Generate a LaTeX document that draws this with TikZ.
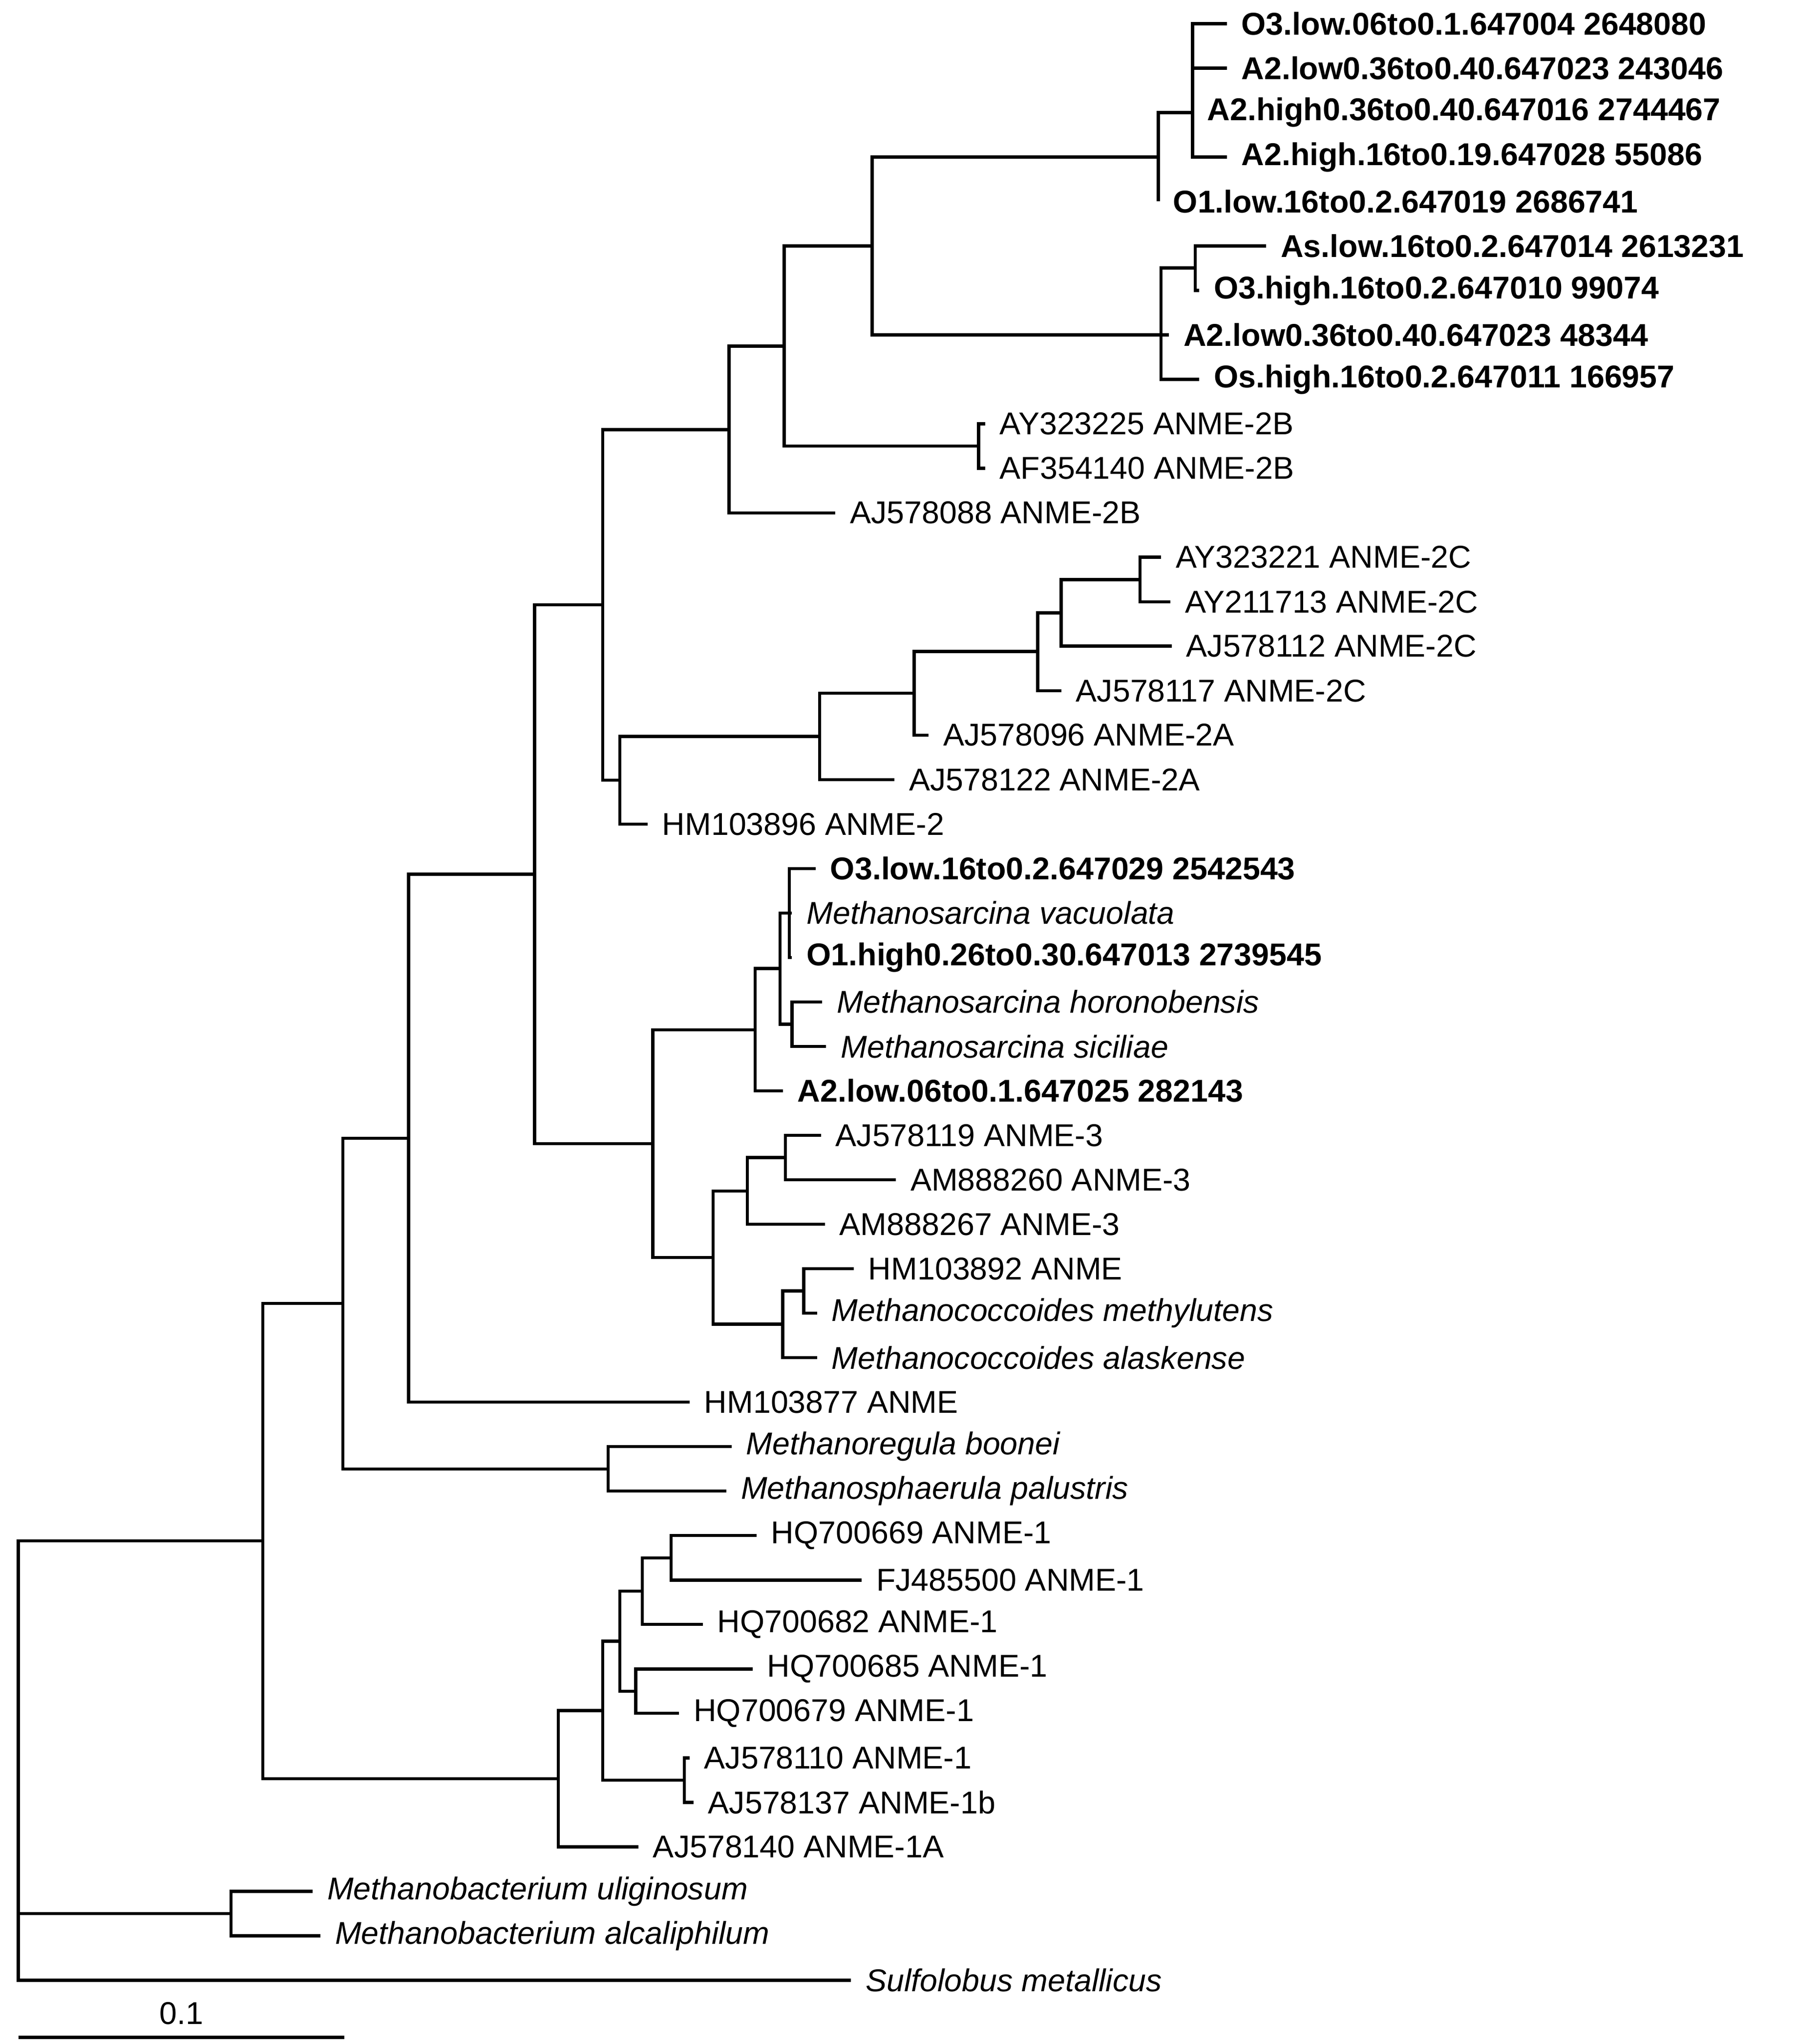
\documentclass[tikz,border=0pt]{standalone}
\usepackage{fontspec}
\setmainfont{Liberation Sans}
\begin{document}
\begin{tikzpicture}[x=0.5pt,y=-0.5pt,line width=1.2pt,
  lab/.style={anchor=west,inner sep=0pt,font=\fontsize{12}{14}\selectfont},
  b/.style={font=\fontsize{12}{14}\selectfont\bfseries},
  it/.style={font=\fontsize{12}{14}\selectfont\itshape}]
\useasboundingbox (0,0) rectangle (1384,1556);
\newcommand{\lf}[5]{\coordinate (#1) at (#2,#3); \node[lab,#4] (#1l) at ([xshift=5pt]#1) {#5};}
% leaves
\lf{i0}{934}{18}{b}{O3.low.06to0.1.647004 2648080}
\lf{i1}{934}{51.9}{b}{A2.low0.36to0.40.647023 243046}
\lf{i2}{908}{85.7}{b}{A2.high0.36to0.40.647016 2744467}
\lf{i3}{934}{119.6}{b}{A2.high.16to0.19.647028 55086}
\lf{i4}{882}{153.4}{b}{O1.low.16to0.2.647019 2686741}
\lf{i5}{964}{187.3}{b}{As.low.16to0.2.647014 2613231}
\lf{i6}{913}{221.1}{b}{O3.high.16to0.2.647010 99074}
\lf{i7}{890}{255}{b}{A2.low0.36to0.40.647023 48344}
\lf{i8}{913}{288.8}{b}{Os.high.16to0.2.647011 166957}
\lf{i9}{750}{322.7}{}{AY323225 ANME-2B}
\lf{i10}{750}{356.5}{}{AF354140 ANME-2B}
\lf{i11}{636}{390.4}{}{AJ578088 ANME-2B}
\lf{i12}{884}{424.2}{}{AY323221 ANME-2C}
\lf{i13}{891}{458.1}{}{AY211713 ANME-2C}
\lf{i14}{892}{491.9}{}{AJ578112 ANME-2C}
\lf{i15}{808}{525.8}{}{AJ578117 ANME-2C}
\lf{i16}{707}{559.6}{}{AJ578096 ANME-2A}
\lf{i17}{681}{593.5}{}{AJ578122 ANME-2A}
\lf{i18}{493}{627.3}{}{HM103896 ANME-2}
\lf{i19}{621}{661.2}{b}{O3.low.16to0.2.647029 2542543}
\lf{i20}{603}{695}{it}{Methanosarcina vacuolata}
\lf{i21}{603}{728.9}{b}{O1.high0.26to0.30.647013 2739545}
\lf{i22}{626}{762.7}{it}{Methanosarcina horonobensis}
\lf{i23}{629}{796.6}{it}{Methanosarcina siciliae}
\lf{i24}{596}{830.4}{b}{A2.low.06to0.1.647025 282143}
\lf{i25}{625}{864.3}{}{AJ578119 ANME-3}
\lf{i26}{682}{898.1}{}{AM888260 ANME-3}
\lf{i27}{628}{932}{}{AM888267 ANME-3}
\lf{i28}{650}{965.8}{}{HM103892 ANME}
\lf{i29}{622}{999.7}{it}{Methanococcoides methylutens}
\lf{i30}{622}{1033.5}{it}{Methanococcoides alaskense}
\lf{i31}{525}{1067.4}{}{HM103877 ANME}
\lf{i32}{557}{1101.2}{it}{Methanoregula boonei}
\lf{i33}{553}{1135.1}{it}{Methanosphaerula palustris}
\lf{i34}{576}{1168.9}{}{HQ700669 ANME-1}
\lf{i35}{656}{1202.8}{}{FJ485500 ANME-1}
\lf{i36}{535}{1236.6}{}{HQ700682 ANME-1}
\lf{i37}{573}{1270.5}{}{HQ700685 ANME-1}
\lf{i38}{517}{1304.3}{}{HQ700679 ANME-1}
\lf{i39}{525}{1338.2}{}{AJ578110 ANME-1}
\lf{i40}{528}{1372}{}{AJ578137 ANME-1b}
\lf{i41}{486}{1405.9}{}{AJ578140 ANME-1A}
\lf{i42}{238}{1439.7}{it}{Methanobacterium uliginosum}
\lf{i43}{244}{1473.6}{it}{Methanobacterium alcaliphilum}
\lf{i44}{648}{1507.4}{it}{Sulfolobus metallicus}
% internal nodes
\coordinate (nA) at (908,85.7);
\coordinate (n882) at (882,119.6);
\coordinate (nB) at (910,204);
\coordinate (n884) at (884,255);
\coordinate (n664) at (664,187.3);
\coordinate (n745) at (745,339.6);
\coordinate (n597) at (597,263.5);
\coordinate (n555) at (555,327);
\coordinate (n868) at (868,441.2);
\coordinate (n808) at (808,466.5);
\coordinate (n790) at (790,496);
\coordinate (n696) at (696,527.8);
\coordinate (n624) at (624,560.7);
\coordinate (n472) at (472,594);
\coordinate (n459) at (459,460.5);
\coordinate (n603) at (601,695);
\coordinate (n607) at (603,779.7);
\coordinate (n595) at (594,737.3);
\coordinate (n577) at (575,783.9);
\coordinate (n610) at (612,982.8);
\coordinate (n592) at (596,1008);
\coordinate (n594) at (598,881.2);
\coordinate (n565) at (569,906.6);
\coordinate (n539) at (543,957.3);
\coordinate (n497) at (497,870.6);
\coordinate (n407) at (407,665.5);
\coordinate (n311) at (311,866.5);
\coordinate (n463) at (463,1118.2);
\coordinate (n261) at (261,992.3);
\coordinate (n508) at (511,1185.9);
\coordinate (n485) at (489,1211.2);
\coordinate (n480) at (484,1287.4);
\coordinate (n467) at (472,1249.3);
\coordinate (n518) at (521,1355.1);
\coordinate (n455) at (459,1302.2);
\coordinate (n421) at (425,1354);
\coordinate (n200) at (200,1173);
\coordinate (n176) at (176,1456.6);
\coordinate (root) at (14,1340);
% edges
\draw (nA) |- (i0) (nA) |- (i1) (nA) |- (i2) (nA) |- (i3);
\draw (n882) |- (nA) (n882) |- (i4);
\draw (nB) |- (i5) (nB) |- (i6);
\draw (n884) |- (nB) (n884) |- (i7) (n884) |- (i8);
\draw (n664) |- (n882) (n664) |- (n884);
\draw (n745) |- (i9) (n745) |- (i10);
\draw (n597) |- (n664) (n597) |- (n745);
\draw (n555) |- (n597) (n555) |- (i11);
\draw (n868) |- (i12) (n868) |- (i13);
\draw (n808) |- (n868) (n808) |- (i14);
\draw (n790) |- (n808) (n790) |- (i15);
\draw (n696) |- (n790) (n696) |- (i16);
\draw (n624) |- (n696) (n624) |- (i17);
\draw (n472) |- (n624) (n472) |- (i18);
\draw (n459) |- (n555) (n459) |- (n472);
\draw (n603) |- (i19) (n603) |- (i20) (n603) |- (i21);
\draw (n607) |- (i22) (n607) |- (i23);
\draw (n595) |- (n603) (n595) |- (n607);
\draw (n577) |- (n595) (n577) |- (i24);
\draw (n594) |- (i25) (n594) |- (i26);
\draw (n565) |- (n594) (n565) |- (i27);
\draw (n610) |- (i28) (n610) |- (i29);
\draw (n592) |- (n610) (n592) |- (i30);
\draw (n539) |- (n565) (n539) |- (n592);
\draw (n497) |- (n577) (n497) |- (n539);
\draw (n407) |- (n459) (n407) |- (n497);
\draw (n311) |- (n407) (n311) |- (i31);
\draw (n463) |- (i32) (n463) |- (i33);
\draw (n261) |- (n311) (n261) |- (n463);
\draw (n508) |- (i34) (n508) |- (i35);
\draw (n485) |- (n508) (n485) |- (i36);
\draw (n480) |- (i37) (n480) |- (i38);
\draw (n467) |- (n485) (n467) |- (n480);
\draw (n518) |- (i39) (n518) |- (i40);
\draw (n455) |- (n467) (n455) |- (n518);
\draw (n421) |- (n455) (n421) |- (i41);
\draw (n200) |- (n261) (n200) |- (n421);
\draw (n176) |- (i42) (n176) |- (i43);
\draw (root) |- (n200) (root) |- (n176) (root) |- (i44);
% scale bar
\coordinate (s0) at (14,1551);
\coordinate (s1) at (262,1551);
\draw (s0) -- (s1);
\node[lab,anchor=base] (sl) at (138,1541) {0.1};
\end{tikzpicture}
\end{document}
